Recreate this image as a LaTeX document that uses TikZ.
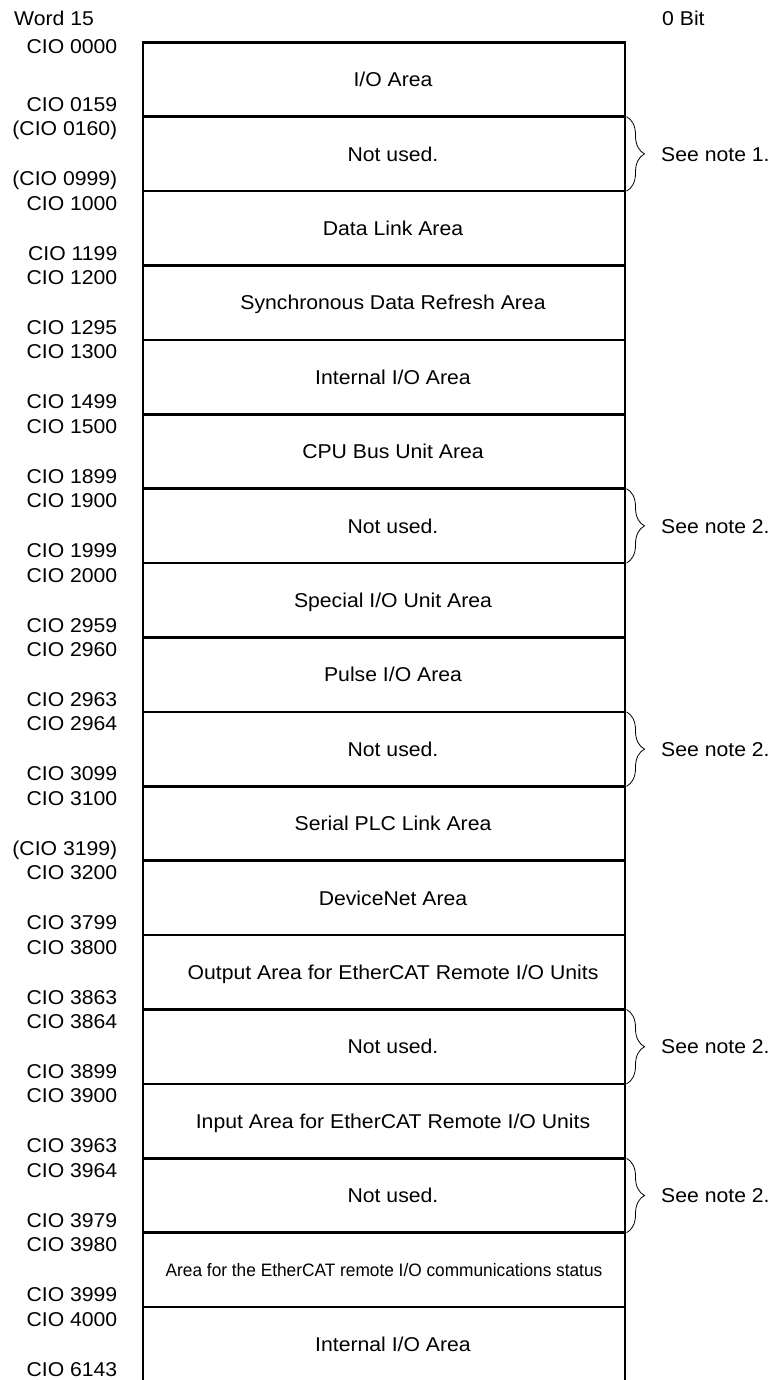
\documentclass[tikz,border=0pt]{standalone}
\usepackage{fontspec}
\setmainfont{Liberation Sans}[FakeStretch=1.06]
\newfontfamily\narrowfont{Liberation Sans}[FakeStretch=0.96]
\usetikzlibrary{decorations.pathreplacing}

\tikzset{
  rowbox/.style={draw, line width=2.5pt, outer sep=0pt, minimum width=482pt,
    minimum height=74.4pt, text height=14.3pt, text depth=0pt},
  area/.style={rowbox, execute at begin node={\hspace*{18pt}}},
  addr/.style={anchor=base east, inner sep=0pt},
  note/.style={anchor=west, inner sep=0pt, text height=14.3pt, text depth=0pt},
  notebrace/.style={decorate, decoration={brace, amplitude=18pt}, line width=0.8pt}
}

\begin{document}
\begin{tikzpicture}[x=1pt, y=-1pt, every node/.style={font=\fontsize{20}{24}\selectfont}]
  \useasboundingbox (0,0) rectangle (774,1380);
  \node[anchor=base west, inner sep=0pt] (W15) at (14,26) {Word 15};
  \node[anchor=base west, inner sep=0pt] (B0) at (662,26) {0 Bit};
  % memory areas
  \node[area] (A0) at (384,79.5) {I/O Area};
  \node[area] (A1) at (384,153.9) {Not used.};
  \node[area] (A2) at (384,228.3) {Data Link Area};
  \node[area] (A3) at (384,302.7) {Synchronous Data Refresh Area};
  \node[area] (A4) at (384,377.1) {Internal I/O Area};
  \node[area] (A5) at (384,451.5) {CPU Bus Unit Area};
  \node[area] (A6) at (384,525.9) {Not used.};
  \node[area] (A7) at (384,600.3) {Special I/O Unit Area};
  \node[area] (A8) at (384,674.7) {Pulse I/O Area};
  \node[area] (A9) at (384,749.1) {Not used.};
  \node[area] (A10) at (384,823.5) {Serial PLC Link Area};
  \node[area] (A11) at (384,897.9) {DeviceNet Area};
  \node[area] (A12) at (384,972.3) {Output Area for EtherCAT Remote I/O Units};
  \node[area] (A13) at (384,1046.7) {Not used.};
  \node[area] (A14) at (384,1121.1) {Input Area for EtherCAT Remote I/O Units};
  \node[area] (A15) at (384,1195.5) {Not used.};
  \node[rowbox, font=\narrowfont\fontsize{18}{22}\selectfont, text height=12.9pt] (A16) at (384,1269.9)
    {Area for the EtherCAT remote I/O communications status};
  \node[area] (A17) at (384,1344.3) {Internal I/O Area};
  % word addresses
  \node[addr] (S0) at (117.5,53.3) {CIO 0000};    \node[addr] (E0) at (117.5,111.2) {CIO 0159};
  \node[addr] (S1) at (117.5,135.7) {(CIO 0160)}; \node[addr] (E1) at (117.5,185.6) {(CIO 0999)};
  \node[addr] (S2) at (117.5,210.1) {CIO 1000};   \node[addr] (E2) at (117.5,260) {CIO 1199};
  \node[addr] (S3) at (117.5,284.5) {CIO 1200};   \node[addr] (E3) at (117.5,334.4) {CIO 1295};
  \node[addr] (S4) at (117.5,358.9) {CIO 1300};   \node[addr] (E4) at (117.5,408.8) {CIO 1499};
  \node[addr] (S5) at (117.5,433.3) {CIO 1500};   \node[addr] (E5) at (117.5,483.2) {CIO 1899};
  \node[addr] (S6) at (117.5,507.7) {CIO 1900};   \node[addr] (E6) at (117.5,557.6) {CIO 1999};
  \node[addr] (S7) at (117.5,582.1) {CIO 2000};   \node[addr] (E7) at (117.5,632) {CIO 2959};
  \node[addr] (S8) at (117.5,656.5) {CIO 2960};   \node[addr] (E8) at (117.5,706.4) {CIO 2963};
  \node[addr] (S9) at (117.5,730.9) {CIO 2964};   \node[addr] (E9) at (117.5,780.8) {CIO 3099};
  \node[addr] (S10) at (117.5,805.3) {CIO 3100};  \node[addr] (E10) at (117.5,855.2) {(CIO 3199)};
  \node[addr] (S11) at (117.5,879.7) {CIO 3200};  \node[addr] (E11) at (117.5,929.6) {CIO 3799};
  \node[addr] (S12) at (117.5,954.1) {CIO 3800};  \node[addr] (E12) at (117.5,1004) {CIO 3863};
  \node[addr] (S13) at (117.5,1028.5) {CIO 3864}; \node[addr] (E13) at (117.5,1078.4) {CIO 3899};
  \node[addr] (S14) at (117.5,1102.9) {CIO 3900}; \node[addr] (E14) at (117.5,1152.8) {CIO 3963};
  \node[addr] (S15) at (117.5,1177.3) {CIO 3964}; \node[addr] (E15) at (117.5,1227.2) {CIO 3979};
  \node[addr] (S16) at (117.5,1251.7) {CIO 3980}; \node[addr] (E16) at (117.5,1301.6) {CIO 3999};
  \node[addr] (S17) at (117.5,1326.1) {CIO 4000}; \node[addr] (E17) at (117.5,1376) {CIO 6143};
  % notes
  \node[note] (N1) at (661,153.9) {See note 1.};
  \node[note] (N6) at (661,525.9) {See note 2.};
  \node[note] (N9) at (661,749.1) {See note 2.};
  \node[note] (N13) at (661,1046.7) {See note 2.};
  \node[note] (N15) at (661,1195.5) {See note 2.};
  \draw[notebrace] ([xshift=1.5pt]A1.north east) -- ([xshift=1.5pt]A1.south east);
  \draw[notebrace] ([xshift=1.5pt]A6.north east) -- ([xshift=1.5pt]A6.south east);
  \draw[notebrace] ([xshift=1.5pt]A9.north east) -- ([xshift=1.5pt]A9.south east);
  \draw[notebrace] ([xshift=1.5pt]A13.north east) -- ([xshift=1.5pt]A13.south east);
  \draw[notebrace] ([xshift=1.5pt]A15.north east) -- ([xshift=1.5pt]A15.south east);
\end{tikzpicture}
\end{document}
